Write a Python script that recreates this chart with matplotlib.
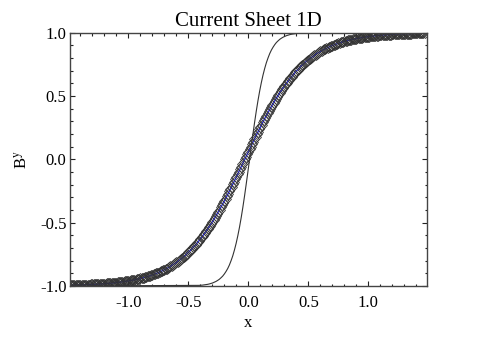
import numpy as np
import matplotlib
matplotlib.use('Agg')
from matplotlib import pyplot as plt
from matplotlib.ticker import MultipleLocator

# diamonds: diffused sheet (x grid step 0.01)
x_mark = np.linspace(-1.53, 1.47, 301)
by_mark = [
    -0.995, -0.995, -0.995, -0.995, -0.994, -0.994, -0.994, -0.994, -0.993, -0.993,
    -0.993, -0.992, -0.992, -0.992, -0.991, -0.991, -0.991, -0.990, -0.990, -0.990,
    -0.989, -0.989, -0.988, -0.988, -0.987, -0.987, -0.986, -0.986, -0.985, -0.984,
    -0.984, -0.983, -0.983, -0.982, -0.981, -0.980, -0.979, -0.979, -0.978, -0.977,
    -0.976, -0.975, -0.974, -0.973, -0.972, -0.970, -0.969, -0.968, -0.967, -0.965,
    -0.964, -0.963, -0.961, -0.960, -0.958, -0.956, -0.955, -0.953, -0.951, -0.949,
    -0.947, -0.945, -0.943, -0.940, -0.938, -0.935, -0.933, -0.930, -0.928, -0.925,
    -0.922, -0.919, -0.915, -0.912, -0.909, -0.905, -0.901, -0.898, -0.894, -0.890,
    -0.885, -0.881, -0.876, -0.872, -0.867, -0.862, -0.857, -0.851, -0.846, -0.840,
    -0.834, -0.827, -0.821, -0.814, -0.808, -0.800, -0.793, -0.786, -0.778, -0.770,
    -0.762, -0.753, -0.744, -0.735, -0.726, -0.716, -0.706, -0.696, -0.686, -0.675,
    -0.664, -0.653, -0.641, -0.629, -0.617, -0.604, -0.592, -0.578, -0.565, -0.551,
    -0.537, -0.523, -0.508, -0.493, -0.478, -0.462, -0.446, -0.430, -0.414, -0.397,
    -0.380, -0.363, -0.345, -0.328, -0.310, -0.291, -0.273, -0.254, -0.236, -0.217,
    -0.197, -0.178, -0.159, -0.139, -0.119, -0.100, -0.080, -0.060, -0.040, -0.020,
    0.000,
    0.020, 0.040, 0.060, 0.080, 0.100, 0.119, 0.139, 0.159, 0.178, 0.197,
    0.217, 0.236, 0.254, 0.273, 0.291, 0.310, 0.328, 0.345, 0.363, 0.380,
    0.397, 0.414, 0.430, 0.446, 0.462, 0.478, 0.493, 0.508, 0.523, 0.537,
    0.551, 0.565, 0.578, 0.592, 0.604, 0.617, 0.629, 0.641, 0.653, 0.664,
    0.675, 0.686, 0.696, 0.706, 0.716, 0.726, 0.735, 0.744, 0.753, 0.762,
    0.770, 0.778, 0.786, 0.793, 0.800, 0.808, 0.814, 0.821, 0.827, 0.834,
    0.840, 0.846, 0.851, 0.857, 0.862, 0.867, 0.872, 0.876, 0.881, 0.885,
    0.890, 0.894, 0.898, 0.901, 0.905, 0.909, 0.912, 0.915, 0.919, 0.922,
    0.925, 0.928, 0.930, 0.933, 0.935, 0.938, 0.940, 0.943, 0.945, 0.947,
    0.949, 0.951, 0.953, 0.955, 0.956, 0.958, 0.960, 0.961, 0.963, 0.964,
    0.965, 0.967, 0.968, 0.969, 0.970, 0.972, 0.973, 0.974, 0.975, 0.976,
    0.977, 0.978, 0.979, 0.979, 0.980, 0.981, 0.982, 0.983, 0.983, 0.984,
    0.984, 0.985, 0.986, 0.986, 0.987, 0.987, 0.988, 0.988, 0.989, 0.989,
    0.990, 0.990, 0.990, 0.991, 0.991, 0.991, 0.992, 0.992, 0.992, 0.993,
    0.993, 0.993, 0.994, 0.994, 0.994, 0.994, 0.995, 0.995, 0.995, 0.995,
]

# thin line: initial sheet
thin_x = np.concatenate([[-1.5], np.linspace(-0.41, 0.43, 61), [1.5]])
thin_y = [
    -1.000,
    -0.995, -0.994, -0.993, -0.991, -0.989, -0.987, -0.984, -0.980, -0.976, -0.970,
    -0.964, -0.956, -0.947, -0.935, -0.922, -0.905, -0.885, -0.862, -0.834, -0.800,
    -0.762, -0.716, -0.664, -0.604, -0.537, -0.462, -0.380, -0.291, -0.197, -0.100,
    0.000,
    0.100, 0.197, 0.291, 0.380, 0.462, 0.537, 0.604, 0.664, 0.716, 0.762,
    0.800, 0.834, 0.862, 0.885, 0.905, 0.922, 0.935, 0.947, 0.956, 0.964,
    0.970, 0.976, 0.980, 0.984, 0.987, 0.989, 0.991, 0.993, 0.994, 0.995,
    1.000,
]

tick_vals = [-1.0, -0.5, 0.0, 0.5, 1.0]
tick_labels = ['-1.0', '-0.5', '0.0', '0.5', '1.0']

plt.rcParams['font.family'] = ['Liberation Serif', 'DejaVu Serif']
plt.rcParams['mathtext.fontset'] = 'stix'

fig = plt.figure(figsize=(4.92, 3.39), dpi=100)
ax = fig.add_axes([70 / 492, 1 - 286 / 339, 356.7 / 492, 253.4 / 339])

ax.plot(x_mark, by_mark, color='#2a2aff', lw=1.0)
ax.plot(x_mark, by_mark, ls='none', marker='D', ms=5,
        mfc='none', mec='#333333', mew=0.55)
ax.plot(thin_x, thin_y, color='#333333', lw=0.8)

ax.set_xlim(-1.487, 1.487)
ax.set_ylim(-1.0, 1.0)
ax.set_xticks(tick_vals)
ax.set_xticklabels(tick_labels)
ax.set_yticks(tick_vals)
ax.set_yticklabels(tick_labels)
ax.xaxis.set_minor_locator(MultipleLocator(0.1))
ax.yaxis.set_minor_locator(MultipleLocator(0.1))

ax.tick_params(which='both', direction='in', top=True, right=True,
               labelsize=12, width=0.8, color='#222222')
ax.tick_params(which='major', length=3.6)
ax.tick_params(which='minor', length=1.8)
ax.tick_params(axis='x', pad=6.5)
ax.tick_params(axis='y', pad=2.5)
for s in ax.spines.values():
    s.set_color('#444444')
    s.set_linewidth(1.0)

ax.set_title('Current Sheet 1D', fontsize=15, pad=5)
ax.set_xlabel('x', fontsize=12, labelpad=3)
ax.set_ylabel(r'B$^{\rm y}$', fontsize=12, labelpad=7)

fig.savefig('out.png', dpi=100)
